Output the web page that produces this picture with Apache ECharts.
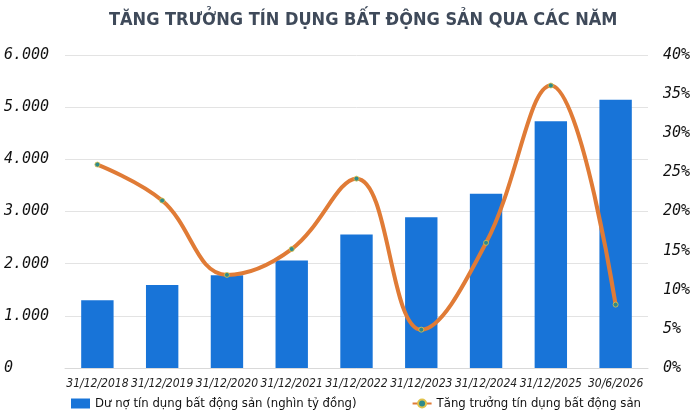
<!DOCTYPE html>
<html>
<head>
<meta charset="utf-8">
<script src="https://cdn.jsdelivr.net/npm/echarts@6/dist/echarts.min.js"></script>
<style>
html,body{margin:0;padding:0;background:#fff;}
#chart{width:700px;height:420px;}
</style>
</head>
<body>
<div id="chart"></div>
<script>
var categories = ['31/12/2018','31/12/2019','31/12/2020','31/12/2021','31/12/2022','31/12/2023','31/12/2024','31/12/2025','30/6/2026'];
// dư nợ, nghìn tỷ đồng
var duNo = [1300, 1590, 1780, 2060, 2560, 2890, 3340, 4730, 5140];
// tăng trưởng, %
var tangTruong = [26.0, 21.4, 11.9, 15.2, 24.2, 4.9, 16.0, 36.1, 8.1];

var myChart = echarts.init(document.getElementById('chart'));
var option = {
	animation: false,
	title: {
		text: 'TĂNG TRƯỞNG TÍN DỤNG BẤT ĐỘNG SẢN QUA CÁC NĂM',
		left: 104,
		top: 6,
		textStyle: {
			fontFamily: 'DejaVu Sans Condensed',
			fontWeight: 'bold',
			fontSize: 18,
			color: '#3f4a5a'
		}
	},
	legend: {
		left: 66,
		top: 392,
		itemWidth: 19,
		itemHeight: 10,
		itemGap: 55,
		textStyle: {fontFamily: 'DejaVu Sans Condensed', fontSize: 13, color: '#111'},
		data: [
			{name: 'Dư nợ tín dụng bất động sản (nghìn tỷ đồng)', icon: 'rect'},
			{name: 'Tăng trưởng tín dụng bất động sản'}
		]
	},
	grid: {left: 65, right: 52, top: 55, bottom: 52},
	xAxis: {
		type: 'category',
		data: categories,
		axisLine: {lineStyle: {color: '#d9d9d9'}},
		axisTick: {show: false},
		axisLabel: {
			interval: 0,
			margin: 10,
			fontFamily: 'DejaVu Sans Condensed',
			fontStyle: 'italic',
			fontSize: 12,
			color: '#222'
		}
	},
	yAxis: [
		{
			type: 'value',
			min: 0, max: 6000, interval: 1000,
			axisLine: {show: false},
			axisTick: {show: false},
			splitLine: {lineStyle: {color: '#e3e3e3'}},
			axisLabel: {
				align: 'left',
				margin: 61,
				fontFamily: 'DejaVu Sans Mono',
				fontStyle: 'italic',
				fontSize: 15,
				color: '#111',
				formatter: function (v) {
					return v === 0 ? '0' : (v / 1000) + '.000';
				}
			}
		},
		{
			type: 'value',
			min: 0, max: 40, interval: 5,
			axisLine: {show: false},
			axisTick: {show: false},
			splitLine: {show: false},
			axisLabel: {
				margin: 15,
				fontFamily: 'DejaVu Sans Mono',
				fontStyle: 'italic',
				fontSize: 15,
				color: '#111',
				formatter: '{value}%'
			}
		}
	],
	series: [
		{
			name: 'Dư nợ tín dụng bất động sản (nghìn tỷ đồng)',
			type: 'bar',
			data: duNo,
			barWidth: '50%',
			itemStyle: {color: '#1874d8'}
		},
		{
			name: 'Tăng trưởng tín dụng bất động sản',
			type: 'line',
			yAxisIndex: 1,
			data: tangTruong,
			smooth: 0.4,
			symbol: 'circle',
			symbolSize: 5,
			lineStyle: {color: '#e07b36', width: 4},
			itemStyle: {color: '#2e8a8c', borderColor: '#e0c24a', borderWidth: 0.8}
		}
	]
};
myChart.setOption(option);
</script>
</body>
</html>
